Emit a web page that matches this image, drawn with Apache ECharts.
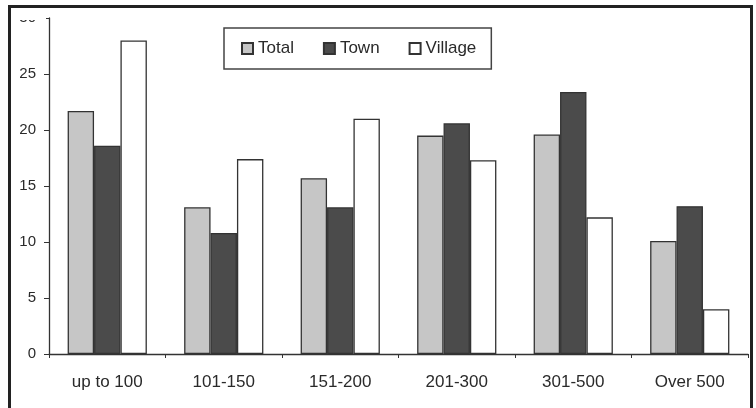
<!DOCTYPE html>
<html>
<head>
<meta charset="utf-8">
<script src="https://cdn.jsdelivr.net/npm/echarts@6/dist/echarts.min.js"></script>
<style>
  html, body { margin: 0; padding: 0; background: #fff; }
  #main { width: 756px; height: 408px; }
</style>
</head>
<body>
<div id="main"></div>
<script>
// data
const categories = ['up to 100', '101-150', '151-200', '201-300', '301-500', 'Over 500'];
const total   = [21.7, 13.1, 15.7, 19.5, 19.6, 10.1];
const town    = [18.6, 10.8, 13.1, 20.6, 23.4, 13.2];
const village = [28.0, 17.4, 21.0, 17.3, 12.2, 4.0];

const font = 'Liberation Sans, Arial, sans-serif';
const edge = { borderColor: '#333', borderWidth: 1.3 };

function barSeries(name, data, color) {
  return {
    name: name,
    type: 'bar',
    data: data,
    barGap: 0,
    barCategoryGap: '32%',
    itemStyle: Object.assign({ color: color }, edge)
  };
}

const chart = echarts.init(document.getElementById('main'));
chart.setOption({
  backgroundColor: '#fff',
  animation: false,
  grid: { left: 49, right: 8, top: 18, bottom: 54 },
  legend: {
    left: 224,
    top: 28,
    padding: [12, 15, 12, 17],
    itemGap: 29,
    itemWidth: 11,
    itemHeight: 11,
    icon: 'rect',
    borderColor: '#444',
    borderWidth: 1.5,
    backgroundColor: '#fff',
    textStyle: { fontFamily: font, fontSize: 17, color: '#2a2a2a' },
    data: ['Total', 'Town', 'Village']
  },
  xAxis: {
    type: 'category',
    data: categories,
    axisLine: { lineStyle: { color: '#333', width: 1.3 } },
    axisTick: { show: true, length: 4, lineStyle: { color: '#333' } },
    axisLabel: { fontFamily: font, fontSize: 17, color: '#2a2a2a', margin: 20 },
    splitLine: { show: false }
  },
  yAxis: {
    type: 'value',
    min: 0,
    max: 30,
    interval: 5,
    axisLine: { show: true, lineStyle: { color: '#333', width: 1.3 } },
    axisTick: { show: true, length: 5, lineStyle: { color: '#333' } },
    axisLabel: { fontFamily: font, fontSize: 15, color: '#2a2a2a', margin: 13 },
    splitLine: { show: false }
  },
  series: [
    barSeries('Total', total, '#c6c6c6'),
    barSeries('Town', town, '#4b4b4b'),
    barSeries('Village', village, '#ffffff')
  ],
  graphic: [
    // scan crops the top tick label
    { type: 'rect', z: 100, shape: { x: 12, y: 8, width: 34, height: 12 }, style: { fill: '#fff' } },
    // outer frame
    { type: 'rect', z: 101, shape: { x: 9.5, y: 6.5, width: 742, height: 420 },
      style: { fill: 'none', stroke: '#222', lineWidth: 3 } }
  ]
});
</script>
</body>
</html>
